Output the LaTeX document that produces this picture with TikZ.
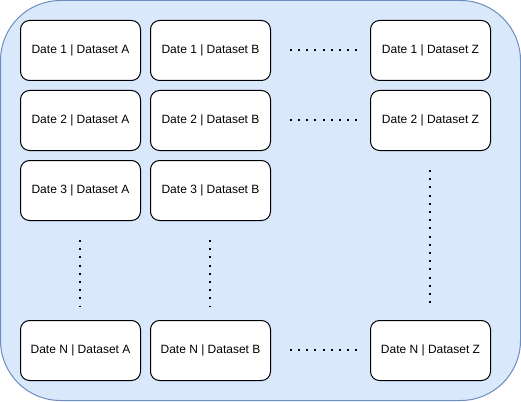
\documentclass[tikz,border=0pt]{standalone}
\usepackage{fontspec}
\setmainfont{Liberation Sans}
\definecolor{bgfill}{HTML}{DAE8FC}
\definecolor{bgline}{HTML}{6C8EBF}
\begin{document}
\begin{tikzpicture}[x=1pt,y=-1pt,
  cell/.style={draw=black,fill=white,rounded corners=9pt,minimum width=120pt,minimum height=60pt,line width=1pt,inner sep=0pt,font=\fontsize{12}{14}\selectfont,anchor=north west},
  dotline/.style={line width=2pt,dash pattern=on 2pt off 6.2pt,black}]
\useasboundingbox (0,0) rectangle (521,401);
\draw[fill=bgfill,draw=bgline,line width=1pt,rounded corners=60pt] (0.5,0.5) rectangle (520.5,400.5);
% row 1
\node[cell] (a1) at (20,20) {Date 1 | Dataset A};
\node[cell] (b1) at (150,20) {Date 1 | Dataset B};
\node[cell] (z1) at (370,20) {Date 1 | Dataset Z};
% row 2
\node[cell] (a2) at (20,90) {Date 2 | Dataset A};
\node[cell] (b2) at (150,90) {Date 2 | Dataset B};
\node[cell] (z2) at (370,90) {Date 2 | Dataset Z};
% row 3
\node[cell] (a3) at (20,160) {Date 3 | Dataset A};
\node[cell] (b3) at (150,160) {Date 3 | Dataset B};
% row N
\node[cell] (an) at (20,320) {Date N | Dataset A};
\node[cell] (bn) at (150,320) {Date N | Dataset B};
\node[cell] (zn) at (370,320) {Date N | Dataset Z};
% dotted lines
\coordinate (h1s) at (289.8,50);
\coordinate (h1e) at (357.5,50);
\coordinate (h2s) at (289.8,120);
\coordinate (h2e) at (357.5,120);
\coordinate (h3s) at (289.8,350);
\coordinate (h3e) at (357.5,350);
\coordinate (vas) at (80,240);
\coordinate (vae) at (80,306.5);
\coordinate (vbs) at (210,240);
\coordinate (vbe) at (210,306.5);
\coordinate (vzs) at (430,170);
\coordinate (vze) at (430,308.5);
\draw[dotline] (h1s) -- (h1e);
\draw[dotline] (h2s) -- (h2e);
\draw[dotline] (h3s) -- (h3e);
\draw[dotline] (vas) -- (vae);
\draw[dotline] (vbs) -- (vbe);
\draw[dotline] (vzs) -- (vze);
\end{tikzpicture}
\end{document}
